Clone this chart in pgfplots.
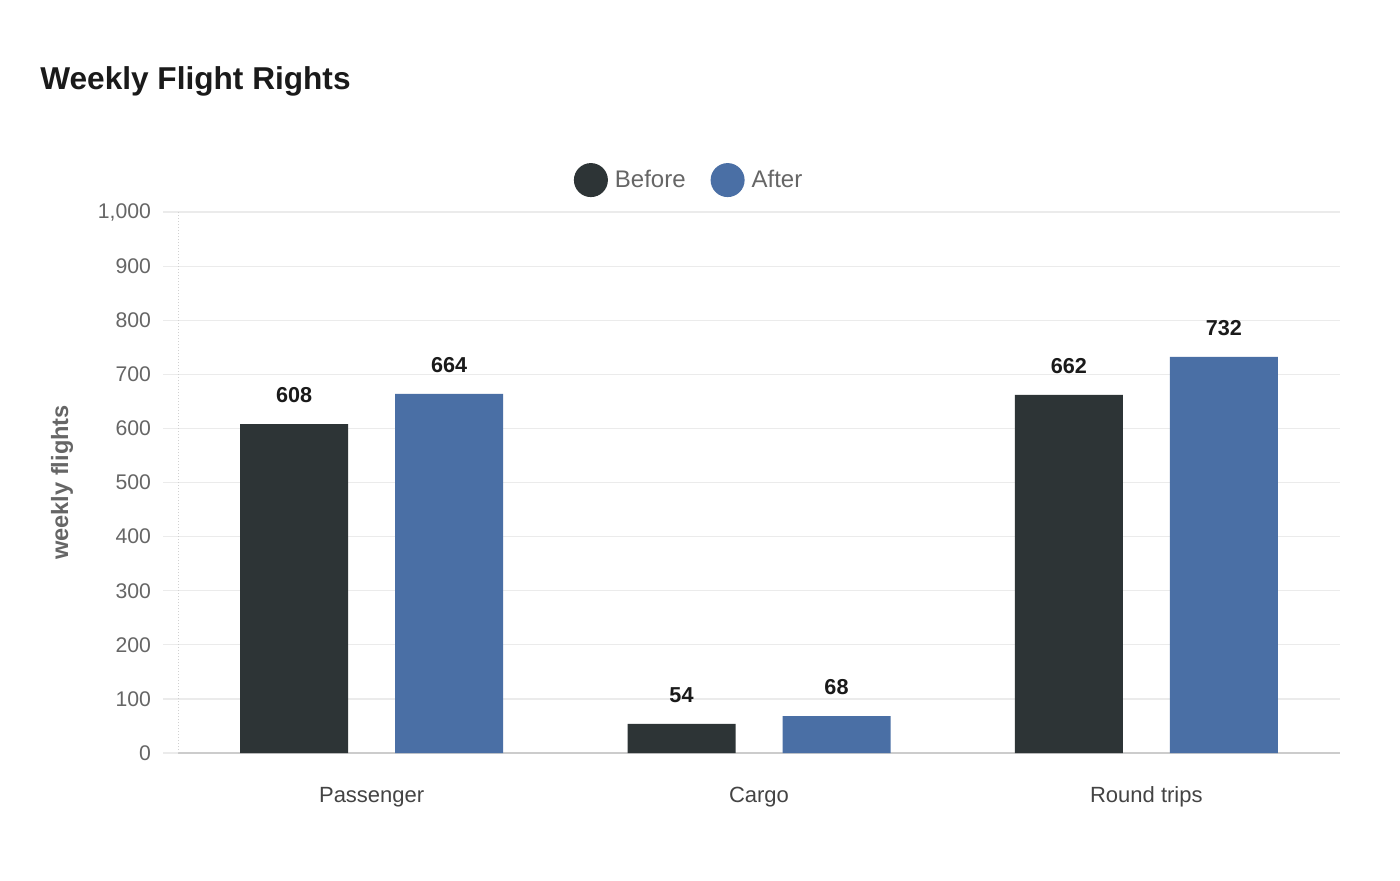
\documentclass[border=0pt]{standalone}
\usepackage{pgfplots}
\pgfplotsset{compat=1.18}
\usepackage{fontspec}
\setmainfont{Liberation Sans}
\definecolor{cBefore}{HTML}{2D3436}
\definecolor{cAfter}{HTML}{4A6FA5}
\definecolor{cGrid}{HTML}{EBEBEB}
\definecolor{cTick}{HTML}{666666}
\definecolor{cCat}{HTML}{444444}
\definecolor{cLab}{HTML}{1A1A1A}
\begin{document}
\begin{tikzpicture}
\path[use as bounding box, fill=white] (0,0) rectangle (700pt,440pt);
\node[anchor=base west, font=\fontsize{15.8pt}{18pt}\selectfont\bfseries, text=cLab, inner sep=0pt] at (20pt,395pt) {Weekly Flight Rights};
\begin{axis}[
  at={(89pt,63.5pt)}, anchor=south west,
  scale only axis, width=581pt, height=270.5pt,
  xmin=-0.5, xmax=2.5, ymin=0, ymax=1000,
  enlarge y limits=false,
  ybar=23.5pt, bar width=54pt,
  xtick={0,1,2},
  xticklabels={Passenger,Cargo,Round trips},
  ytick={0,100,...,1000},
  axis x line*=bottom, axis y line*=left,
  x axis line style={draw=black!20, line width=0.8pt, -},
  y axis line style={draw=black!18, densely dotted, line width=0.5pt, -},
  ymajorgrids, grid style={draw=cGrid, line width=0.6pt},
  y tick style={draw=cGrid, line width=0.6pt},
  tick align=outside,
  x tick style={draw=none},
  major tick length=7.5pt,
  /pgf/number format/.cd, 1000 sep={,}, assume math mode=true, /pgfplots/.cd,
  yticklabel style={font=\fontsize{10.6pt}{12pt}\selectfont, text=cTick, xshift=-2.5pt},
  xticklabel style={font=\fontsize{11pt}{13pt}\selectfont, text=cCat, yshift=-6pt, text height=7.9pt, text depth=2.3pt},
  ylabel={weekly flights},
  ylabel style={at={(axis description cs:-0.0998,0.5)}, anchor=center, font=\fontsize{11.8pt}{14pt}\selectfont\bfseries, text=cTick},
  nodes near coords,
  every node near coord/.append style={font=\fontsize{10.8pt}{12pt}\selectfont\bfseries, text=cLab, yshift=7pt},
  legend columns=-1,
  legend style={draw=none, fill=none, at={(0.4407,1.059)}, anchor=center,
    font=\fontsize{12pt}{14pt}\selectfont, text=cTick,
    /tikz/every odd column/.append style={column sep=1.5pt},
    /tikz/every even column/.append style={column sep=10.5pt}},
]
\addplot[fill=cBefore, draw=none, legend image code/.code={\fill[cBefore] (0pt,0pt) circle (8.5pt);}] coordinates {(0,608) (1,54) (2,662)};
\addplot[fill=cAfter, draw=none, legend image code/.code={\fill[cAfter] (0pt,0pt) circle (8.5pt);}] coordinates {(0,664) (1,68) (2,732)};
\legend{Before, After}
\end{axis}
\end{tikzpicture}
\end{document}
